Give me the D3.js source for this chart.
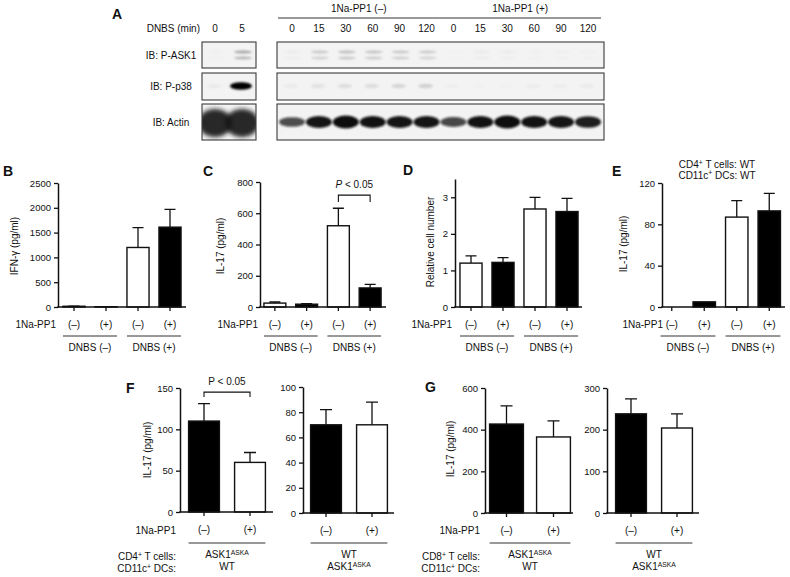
<!DOCTYPE html>
<html><head><meta charset="utf-8">
<script src="https://cdn.jsdelivr.net/npm/d3@7"></script>
<style>
body{margin:0;background:#fff;}
svg{font-family:"Liberation Sans",Arial,Helvetica,sans-serif;}
</style></head><body>
<svg id="c" width="790" height="577"></svg>
<script>
// ================= DATA =================
// Panel A (western blots): relative band intensities per lane
const blotRowLabels = ["IB: P-ASK1", "IB: P-p38", "IB: Actin"];
const dnbsMinLeft = ["0", "5"];
const dnbsMinRight = ["0","15","30","60","90","120","0","15","30","60","90","120"];
const inhibitorGroupsA = ["1Na-PP1 (–)", "1Na-PP1 (+)"];
const pASK1Left = [0.02, 0.32];
const pASK1Right = [0.03, 0.18, 0.22, 0.2, 0.18, 0.17, 0.01, 0.04, 0.03, 0.02, 0.02, 0.02];
const pP38Left = [0.04, 1.0];
const pP38Right = [0.04, 0.07, 0.09, 0.09, 0.12, 0.14, 0.02, 0.01, 0.01, 0.03, 0.03, 0.04];
const actinLeft = [1.0, 1.0];
const actinRight = [0.7, 0.92, 1.0, 0.93, 0.92, 0.92, 0.72, 0.93, 1.0, 0.93, 0.92, 0.88];

// Panels B-E: categories
const nappCats = ["(–)", "(+)", "(–)", "(+)"];
const dnbsGroups = ["DNBS (–)", "DNBS (+)"];
// B: IFN-gamma (pg/ml)
const bTicks = [0, 500, 1000, 1500, 2000, 2500];
const bValues = [15, 6, 1200, 1610];
const bErrTop = [18, 8, 1600, 1970];
// C: IL-17 (pg/ml)
const cTicks = [0, 200, 400, 600, 800];
const cValues = [25, 18, 520, 122];
const cErrTop = [32, 22, 632, 145];
// D: relative cell number
const dTicks = [0, 1, 2, 3];
const dValues = [1.2, 1.22, 2.68, 2.61];
const dErrTop = [1.4, 1.35, 3.0, 2.97];
// E: IL-17 (pg/ml)
const eTicks = [0, 40, 80, 120];
const eValues = [0, 5, 87, 93];
const eErrTop = [0, 5, 103, 110];
const eTitle = [[["CD4",0],["+",1],[" T cells: WT",0]], [["CD11c",0],["+",1],[" DCs: WT",0]]];
// F: IL-17 (pg/ml), CD4+ T cells
const fgCats = ["(–)", "(+)"];
const fLeftTicks = [0, 50, 100, 150];
const fLeftValues = [110, 60];
const fLeftErrTop = [131, 72];
const fRightTicks = [0, 20, 40, 60, 80, 100];
const fRightValues = [70, 70];
const fRightErrTop = [82, 88];
// G: IL-17 (pg/ml), CD8+ T cells
const gLeftTicks = [0, 200, 400, 600];
const gLeftValues = [427, 365];
const gLeftErrTop = [514, 442];
const gRightTicks = [0, 100, 200, 300];
const gRightValues = [238, 204];
const gRightErrTop = [274, 238];
const askaLine = [["ASK1",0],["ASKA",1]];
const wtLine = [["WT",0]];
const significance = "P < 0.05";

// ================= DRAWING =================
const svg = d3.select("#c");
const INK = "#111";
const defs = svg.append("defs");
defs.append("filter").attr("id","blur").attr("x","-50%").attr("y","-50%").attr("width","200%").attr("height","200%")
  .append("feGaussianBlur").attr("stdDeviation",1.3);
defs.append("filter").attr("id","blur2").attr("x","-50%").attr("y","-50%").attr("width","200%").attr("height","200%")
  .append("feGaussianBlur").attr("stdDeviation",2.2);

function rich(g, x, y, segs, anchor, size){
  const t = g.append("text").attr("x",x).attr("y",y).attr("text-anchor",anchor||"middle")
    .attr("font-size",size||10).attr("fill",INK);
  let up = false;
  segs.forEach(([s,sup])=>{
    const ts = t.append("tspan").text(s);
    if (sup && !up){ ts.attr("dy",-3.5).attr("font-size",(size||10)*0.68); up = true; }
    else if (sup){ ts.attr("font-size",(size||10)*0.68); }
    else if (!sup && up){ ts.attr("dy",3.5); up = false; }
  });
  return t;
}
function letter(x,y,s){
  svg.append("text").attr("x",x).attr("y",y).attr("font-size",14).attr("font-weight","bold").attr("fill",INK).text(s);
}

// ---------- Panel A ----------
letter(112,19,"A");
const laneL = d3.scalePoint().domain(d3.range(dnbsMinLeft.length)).range([215,242]);
const laneR = d3.scalePoint().domain(d3.range(dnbsMinRight.length)).range([292,588]);
const gA = svg.append("g");
gA.append("text").attr("x",200).attr("y",32).attr("text-anchor","end").attr("font-size",10).attr("fill",INK).text("DNBS (min)");
dnbsMinLeft.forEach((s,i)=>gA.append("text").attr("x",laneL(i)).attr("y",32).attr("text-anchor","middle").attr("font-size",10).attr("fill",INK).text(s));
dnbsMinRight.forEach((s,i)=>gA.append("text").attr("x",laneR(i)).attr("y",32).attr("text-anchor","middle").attr("font-size",10).attr("fill",INK).text(s));
inhibitorGroupsA.forEach((s,k)=>{
  const a = laneR(k*6) - 14, b = laneR(k*6+5) + 13;
  gA.append("line").attr("x1",a).attr("x2",b).attr("y1",18).attr("y2",18).attr("stroke","#333").attr("stroke-width",1);
  gA.append("text").attr("x",(a+b)/2).attr("y",12).attr("text-anchor","middle").attr("font-size",10).attr("fill",INK).text(s);
});
const rows = [
  {top:42, h:26, kind:"doublet", L:pASK1Left, R:pASK1Right},
  {top:73, h:27, kind:"single", L:pP38Left, R:pP38Right},
  {top:104, h:36, kind:"actin", L:actinLeft, R:actinRight}
];
const boxes = [{x:202, w:54, lane:laneL, key:"L"}, {x:277, w:327, lane:laneR, key:"R"}];
rows.forEach((r,ri)=>{
  gA.append("text").attr("x",171).attr("y",r.top+r.h/2+3.5).attr("text-anchor","middle").attr("font-size",10).attr("fill",INK).text(blotRowLabels[ri]);
  boxes.forEach((bx,bi)=>{
    const id = `clip${ri}_${bi}`;
    defs.append("clipPath").attr("id",id).append("rect").attr("x",bx.x).attr("y",r.top).attr("width",bx.w).attr("height",r.h);
    gA.append("rect").attr("x",bx.x).attr("y",r.top).attr("width",bx.w).attr("height",r.h).attr("fill","#f3f3f3");
    const bg = gA.append("g").attr("clip-path",`url(#${id})`).append("g").attr("filter", (r.kind==="actin"&&bx.key==="L")?"url(#blur2)":"url(#blur)");
    r[bx.key].forEach((v,i)=>{
      const cx = bx.lane(i);
      if (r.kind==="doublet"){
        [r.top+10, r.top+16].forEach((cy,j)=>bg.append("ellipse").attr("cx",cx+1).attr("cy",cy).attr("rx",9).attr("ry",1.5)
          .attr("fill","#000").attr("fill-opacity",v*(j?0.8:1)));
      } else if (r.kind==="single"){
        bg.append("ellipse").attr("cx",cx-1).attr("cy",r.top+13).attr("rx",7+4*v).attr("ry",2+1.8*v).attr("fill","#000").attr("fill-opacity",v);
      } else if (bx.key==="L"){
        bg.append("ellipse").attr("cx",cx).attr("cy",r.top+19).attr("rx",17).attr("ry",14).attr("fill","#1a1a1a").attr("fill-opacity",v*0.92);
      } else {
        bg.append("ellipse").attr("cx",cx).attr("cy",r.top+18).attr("rx",13).attr("ry",1+5.5*v).attr("fill","#111").attr("fill-opacity",Math.min(1,v*1.05));
      }
    });
    gA.append("rect").attr("x",bx.x).attr("y",r.top).attr("width",bx.w).attr("height",r.h).attr("fill","none").attr("stroke","#3a3a3a").attr("stroke-width",1.1);
  });
});

// ---------- Bar panel helper ----------
function barPanel(o){
  const g = svg.append("g");
  const y = d3.scaleLinear().domain([0,o.max]).range([o.y0,o.yTop]);
  const x = d3.scaleBand().domain(d3.range(o.values.length)).range(o.band).paddingInner(o.pad).paddingOuter(o.pad/2);
  const bw = x.bandwidth();
  const data = o.values.map((v,i)=>({v, e:o.err[i], i})).filter(d=>d.v>0);
  g.selectAll("rect.bar").data(data).join("rect").attr("class","bar")
    .attr("x",d=>x(d.i)).attr("width",bw).attr("y",d=>y(d.v)).attr("height",d=>o.y0-y(d.v))
    .attr("fill",d=>o.fill(d.i)).attr("stroke",INK).attr("stroke-width",1.4);
  const cap = o.cap || bw*0.5;
  g.selectAll("path.err").data(data.filter(d=>d.e>d.v)).join("path").attr("class","err")
    .attr("d",d=>{const cx=x(d.i)+bw/2; return `M${cx},${y(d.v)}V${y(d.e)}M${cx-cap/2},${y(d.e)}H${cx+cap/2}`;})
    .attr("stroke",INK).attr("stroke-width",1.3).attr("fill","none");
  // y axis
  const ya = g.append("g").attr("transform",`translate(${o.axisX},0)`)
    .call(d3.axisLeft(y).tickValues(o.ticks).tickFormat(d=>String(d)).tickSize(4).tickSizeOuter(0).tickPadding(3));
  ya.select(".domain").attr("stroke",INK).attr("stroke-width",1.5);
  ya.selectAll(".tick line").attr("stroke",INK).attr("stroke-width",1.3);
  ya.selectAll(".tick text").attr("font-size",9.5).attr("font-family",null).attr("fill",INK);
  // x axis
  g.append("line").attr("x1",o.axisX-0.75).attr("x2",o.axisEnd).attr("y1",o.y0).attr("y2",o.y0).attr("stroke",INK).attr("stroke-width",1.5);
  const xa = g.append("g").attr("transform",`translate(0,${o.y0})`)
    .call(d3.axisBottom(x).tickSize(4).tickPadding(10).tickFormat(i=>o.cats[i]));
  xa.select(".domain").remove();
  xa.selectAll(".tick line").attr("stroke",INK).attr("stroke-width",1.3);
  xa.selectAll(".tick text").attr("font-size",10).attr("font-family",null).attr("fill",INK);
  // y label
  if (o.ylabel) g.append("text").attr("transform",`translate(${o.ylabel[1]},${o.ylabel[2]}) rotate(-90)`)
    .attr("text-anchor","middle").attr("dominant-baseline","central").attr("font-size",10).attr("fill",INK).text(o.ylabel[0]);
  // row labels left of categories
  if (o.rowLabels) o.rowLabels.forEach(([segs,yy])=>rich(g,o.rowX,yy,segs,"end",10));
  // groups
  o.groups.forEach(gr=>{
    const a = x(gr.from), b = x(gr.to)+bw;
    g.append("line").attr("x1",a).attr("x2",b).attr("y1",o.gy).attr("y2",o.gy).attr("stroke","#333").attr("stroke-width",1);
    gr.lines.forEach((segs,k)=>rich(g,(a+b)/2,o.gy+15+k*12,segs,"middle",10));
  });
  // significance bracket
  if (o.sig){
    const s = o.sig, a = x(s.from)+bw/2, b = x(s.to)+bw/2, yt = y(s.y), yl = y(s.leg);
    g.append("path").attr("d",`M${a},${yl}V${yt}H${b}V${yl}`).attr("fill","none").attr("stroke",INK).attr("stroke-width",1.1);
    const t = g.append("text").attr("x",(a+b)/2).attr("y",yt-7).attr("text-anchor","middle").attr("font-size",10).attr("fill",INK);
    if (s.italic){ t.append("tspan").attr("font-style","italic").text(significance.slice(0,1)); t.append("tspan").text(significance.slice(1)); }
    else t.text(significance);
  }
  return {x,y};
}

const fillWB = i => (i%2===0) ? "#fff" : "#000";   // (–) open, (+) filled
const fillBW = i => (i%2===0) ? "#000" : "#fff";   // (–) filled, (+) open
const dnbsGroupDefs = [{from:0,to:1,lines:[[[dnbsGroups[0],0]]]},{from:2,to:3,lines:[[[dnbsGroups[1],0]]]}];
const nappRow = [[["1Na-PP1",0]],328];

// B
letter(3,176,"B");
barPanel({values:bValues, err:bErrTop, max:2500, ticks:bTicks, y0:307, yTop:183, axisX:58, axisEnd:186,
  band:[58,186], pad:0.31, cap:11, fill:fillWB, cats:nappCats, ylabel:["IFN-γ (pg/ml)",14,246],
  rowX:56, rowLabels:[nappRow], gy:336, groups:dnbsGroupDefs});
// C
letter(203,176,"C");
barPanel({values:cValues, err:cErrTop, max:800, ticks:cTicks, y0:307, yTop:182, axisX:260, axisEnd:386,
  band:[259,386], pad:0.31, cap:11, fill:fillWB, cats:nappCats, ylabel:["IL-17 (pg/ml)",220,246],
  rowX:258, rowLabels:[nappRow], gy:336, groups:dnbsGroupDefs,
  sig:{from:2,to:3,y:716,leg:672,italic:true}});
// D
letter(403,175,"D");
barPanel({values:dValues, err:dErrTop, max:3.5, ticks:dTicks, y0:307, yTop:179, axisX:455, axisEnd:582,
  band:[455,583], pad:0.31, cap:11, fill:fillWB, cats:nappCats, ylabel:["Relative cell number",430,242],
  rowX:452, rowLabels:[nappRow], gy:336, groups:dnbsGroupDefs});
// E
letter(612,176,"E");
eTitle.forEach((segs,k)=>rich(svg,717,168+k*10.5,segs,"middle",10));
barPanel({values:eValues, err:eErrTop, max:120, ticks:eTicks, y0:307, yTop:183, axisX:662, axisEnd:785,
  band:[655.5,785.5], pad:0.31, cap:11, fill:fillWB, cats:nappCats, ylabel:["IL-17 (pg/ml)",623,244],
  rowX:663, rowLabels:[nappRow], gy:336, groups:dnbsGroupDefs});

// F
letter(126,393,"F");
barPanel({values:fLeftValues, err:fLeftErrTop, max:150, ticks:fLeftTicks, y0:512, yTop:388, axisX:180, axisEnd:273,
  band:[181,273], pad:0.33, cap:12, fill:fillBW, cats:fgCats, ylabel:["IL-17 (pg/ml)",147,450],
  rowX:176, rowLabels:[[[["1Na-PP1",0]],534],[[["CD4",0],["+",1],[" T cells:",0]],560],[[["CD11c",0],["+",1],[" DCs:",0]],572]],
  gy:543, groups:[{from:0,to:1,lines:[askaLine,wtLine]}],
  sig:{from:0,to:1,y:145,leg:139,italic:false}});
barPanel({values:fRightValues, err:fRightErrTop, max:100, ticks:fRightTicks, y0:513, yTop:387, axisX:303, axisEnd:394,
  band:[303,395], pad:0.33, cap:12, fill:fillBW, cats:fgCats,
  gy:543, groups:[{from:0,to:1,lines:[wtLine,askaLine]}]});

// G
letter(425,392,"G");
barPanel({values:gLeftValues, err:gLeftErrTop, max:600, ticks:gLeftTicks, y0:513, yTop:388, axisX:485, axisEnd:573,
  band:[483,577], pad:0.28, cap:12, fill:fillBW, cats:fgCats, ylabel:["IL-17 (pg/ml)",450,449],
  rowX:480, rowLabels:[[[["1Na-PP1",0]],534],[[["CD8",0],["+",1],[" T cells:",0]],560],[[["CD11c",0],["+",1],[" DCs:",0]],572]],
  gy:543, groups:[{from:0,to:1,lines:[askaLine,wtLine]}]});
barPanel({values:gRightValues, err:gRightErrTop, max:300, ticks:gRightTicks, y0:513, yTop:388, axisX:607, axisEnd:699,
  band:[608,700], pad:0.33, cap:12, fill:fillBW, cats:fgCats,
  gy:543, groups:[{from:0,to:1,lines:[wtLine,askaLine]}]});
</script></body></html>
